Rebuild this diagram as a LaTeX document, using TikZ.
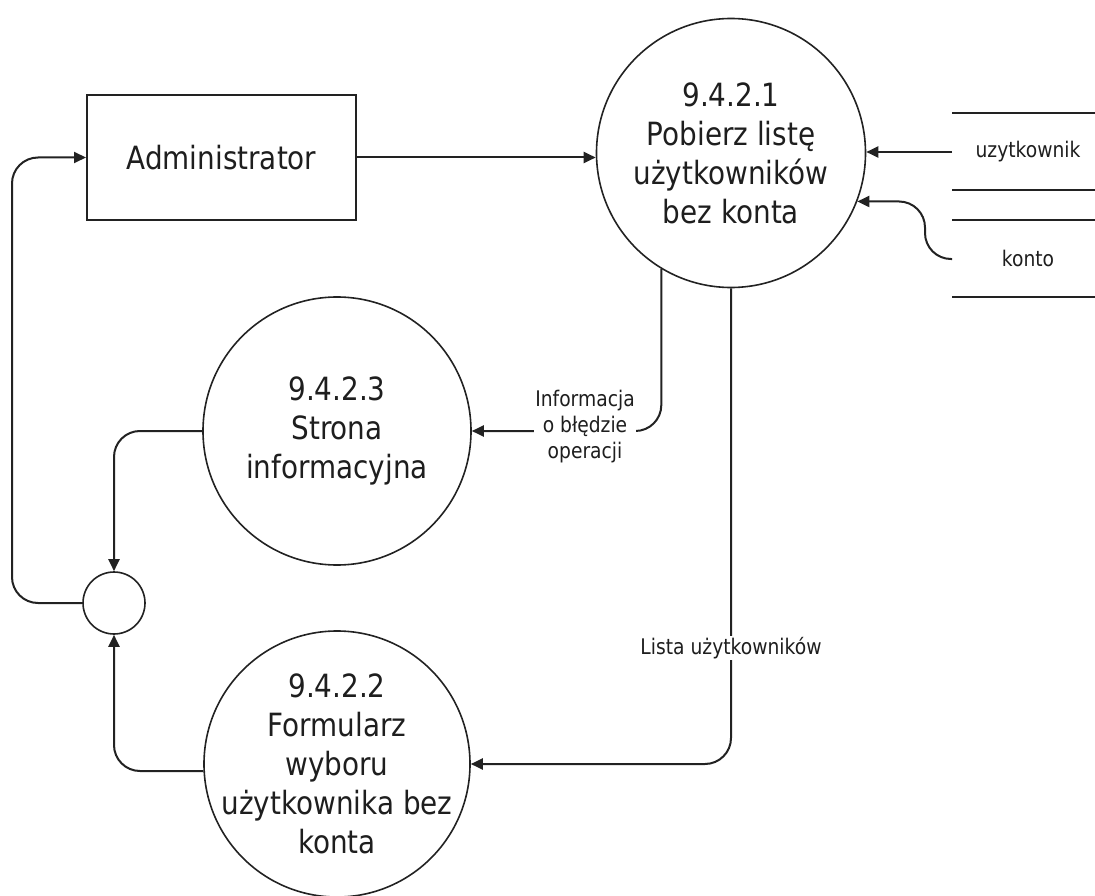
\documentclass[tikz,border=0pt]{standalone}
\usepackage{fontspec}
\setmainfont{DejaVu Sans}[FakeStretch=0.87]
\usetikzlibrary{arrows.meta}
\definecolor{ln}{HTML}{222222}
\definecolor{txt}{HTML}{1E1E1E}
\begin{document}
\begin{tikzpicture}[x=1pt,y=-1pt,
  conn/.style={-{Triangle[length=12pt,width=11pt]}, line width=2pt, draw=ln, rounded corners=26pt},
  proc/.style={circle, draw=ln, line width=1.6pt, minimum size=#1, inner sep=0pt},
  big/.style={font=\fontsize{32}{39}\selectfont, align=center, text=txt, inner sep=0pt},
  small/.style={font=\fontsize{21.5}{26}\selectfont, align=center, text=txt},
  store/.style={line width=2pt, draw=ln},
]
\useasboundingbox (0,0) rectangle (1095,896);

% entity
\node[draw=ln, rectangle, minimum width=269pt, minimum height=125pt, line width=2pt, big] (admin) at (221.5,157.5) {Administrator};

% processes
\node[proc=269pt, label={[big]center:{9.4.2.1\\Pobierz listę\\użytkowników\\bez konta}}] (p1) at (731,153) {};
\node[proc=268pt, label={[big]center:{9.4.2.3\\Strona\\informacyjna}}] (p3) at (337,431) {};
\node[proc=266pt, label={[big]center:{9.4.2.2\\Formularz\\wyboru\\użytkownika bez\\konta}}] (p2) at (337,764) {};
\node[proc=62pt] (j) at (114,603) {};

% data store
\draw[store] (952,113) -- (1095,113);
\draw[store] (952,190) -- (1095,190);
\draw[store] (952,220) -- (1095,220);
\draw[store] (952,297) -- (1095,297);
\node[small] (su) at (1028,152) {uzytkownik};
\node[small] (sk) at (1028,258) {konto};
\coordinate (su0) at (952,152);
\coordinate (sk0) at (952,259);
\coordinate (sk1) at (925,0);
\coordinate (lp) at (12,0);

% connectors
\draw[conn] (admin.east) -- (p1.west |- admin.east);
\draw[conn] (su0) -- (p1.east |- su0);
\draw[conn] (sk0) -- (sk1 |- sk0) -- (sk1 |- p1.-21.8) -- (p1.-21.8);
\draw[conn] (p1.239.6) -- (p1.239.6 |- p3.east) -- (p3.east);
\draw[conn] (p1.south) -- (p1.south |- p2.east) -- (p2.east);
\draw[conn] (p3.west) -- (j.north |- p3.west) -- (j.north);
\draw[conn] (p2.183) -- (j.south |- p2.183) -- (j.south);
\draw[conn] (j.west) -- (lp |- j.west) -- (lp |- admin.west) -- (admin.west);

% flow labels
\node[small, fill=white, inner sep=1pt] (l1) at (585,427) {Informacja\\o błędzie\\operacji};
\node[small, fill=white, inner sep=1pt] (l2) at (731,648) {Lista użytkowników};
\end{tikzpicture}
\end{document}
